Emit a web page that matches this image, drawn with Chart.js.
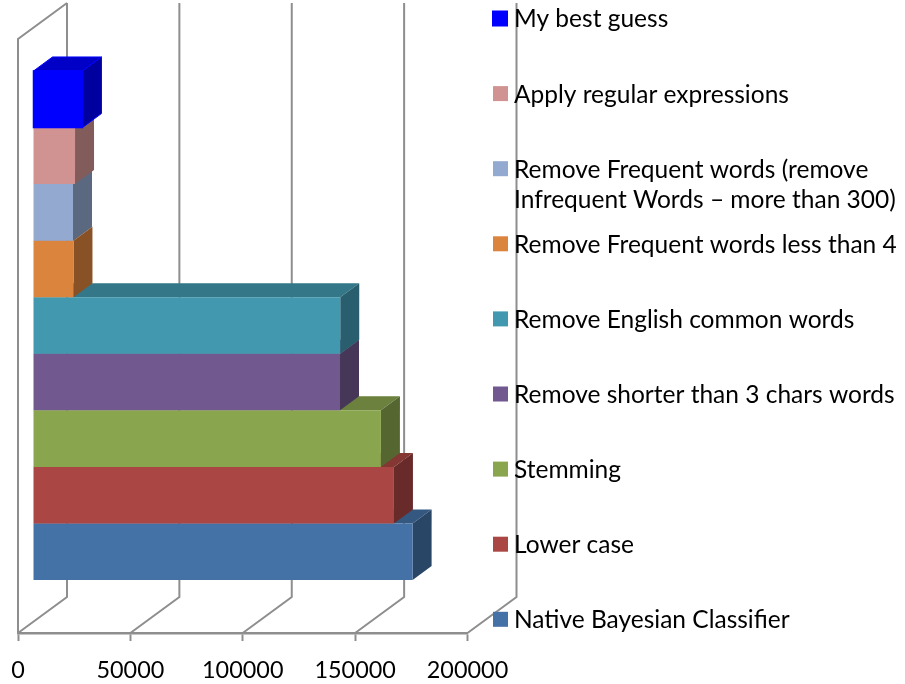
<!DOCTYPE html>
<html>
<head>
<meta charset="utf-8">
<style>html,body{margin:0;padding:0;background:#fff}canvas{display:block}</style>
<script src="https://cdn.jsdelivr.net/npm/chart.js@4"></script>
</head>
<body>
<canvas id="c" width="905" height="684"></canvas>
<script>
const categories = ['Accuracy'];
const seriesNames = [
  'My best guess',
  'Apply regular expressions',
  ['Remove Frequent words (remove', 'Infrequent Words \u2013 more than 300)'],
  'Remove Frequent words less than 4',
  'Remove English common words',
  'Remove shorter than 3 chars words',
  'Stemming',
  'Lower case',
  'Native Bayesian Classifier'
];
const seriesValues = [22000, 18700, 17800, 18000, 136700, 136600, 154800, 160600, 168900];
const seriesColors = ['#0000FF', '#D19392', '#93A9CF', '#DB843D', '#4198AF', '#71588F', '#89A54E', '#AA4643', '#4471A6'];
const xTickValues = [0, 50000, 100000, 150000, 200000];

const FONT = 'Lato, Carlito, sans-serif';
const LEGEND_SIZE = 24.5;
const TICK_SIZE = 23.4;
const GRID = '#8e8e8e';
const DEPTH = {wallX: 49, wallY: -36, gapX: 15, gapY: -10.5, barX: 19, barY: -14};

function shade(hex, f) {
  const n = parseInt(hex.slice(1), 16);
  const c = [n >> 16, (n >> 8) & 255, n & 255].map(v => Math.round(v * f));
  return 'rgb(' + c.join(',') + ')';
}
function poly(ctx, pts, fill, stroke) {
  ctx.beginPath();
  pts.forEach((p, i) => i ? ctx.lineTo(p[0], p[1]) : ctx.moveTo(p[0], p[1]));
  ctx.closePath();
  ctx.fillStyle = fill;
  ctx.fill();
  if (stroke) { ctx.strokeStyle = stroke; ctx.lineWidth = 1; ctx.stroke(); }
}

const pseudo3d = {
  id: 'pseudo3d',
  beforeDatasetsDraw(chart) {
    const {ctx, chartArea: a, scales: {x}} = chart;
    ctx.save();
    ctx.strokeStyle = GRID;
    ctx.lineWidth = 2;
    // side wall and floor/back-wall gridlines
    ctx.beginPath();
    ctx.moveTo(a.left, a.bottom);
    ctx.lineTo(a.left, a.top);
    ctx.lineTo(a.left + DEPTH.wallX, a.top + DEPTH.wallY);
    ctx.stroke();
    xTickValues.forEach(v => {
      const px = x.getPixelForValue(v);
      ctx.beginPath();
      ctx.moveTo(px, a.bottom);
      ctx.lineTo(px + DEPTH.wallX, a.bottom + DEPTH.wallY);
      ctx.lineTo(px + DEPTH.wallX, a.top + DEPTH.wallY);
      ctx.stroke();
    });
    ctx.restore();

    ctx.save();
    ctx.translate(DEPTH.gapX, DEPTH.gapY);
    // side faces painted bottom bar first so the top bar sits over the ones below it
    for (let i = chart.data.datasets.length - 1; i >= 0; i--) {
      const ds = chart.data.datasets[i];
      const bar = chart.getDatasetMeta(i).data[0];
      const top = bar.y - bar.height / 2, bottom = bar.y + bar.height / 2;
      const dx = DEPTH.barX, dy = DEPTH.barY;
      const edge = ds.outlined ? ds.backgroundColor : null;
      poly(ctx, [[bar.base, top], [bar.x, top], [bar.x + dx, top + dy], [bar.base + dx, top + dy]],
        shade(ds.backgroundColor, 0.78), edge);
      poly(ctx, [[bar.x, top], [bar.x + dx, top + dy], [bar.x + dx, bottom + dy], [bar.x, bottom]],
        shade(ds.backgroundColor, 0.62), edge);
    }
  },
  afterDatasetsDraw(chart) {
    const ctx = chart.ctx;
    chart.data.datasets.forEach((ds, i) => {
      if (!ds.outlined) return;
      const bar = chart.getDatasetMeta(i).data[0];
      ctx.strokeStyle = ds.backgroundColor;
      ctx.lineWidth = 1.5;
      ctx.strokeRect(bar.base, bar.y - bar.height / 2, bar.x - bar.base, bar.height);
    });
    ctx.restore();
  },
  afterDraw(chart) {
    // legend, top to bottom in series order
    const ctx = chart.ctx;
    ctx.save();
    ctx.font = LEGEND_SIZE + 'px ' + FONT;
    ctx.textBaseline = 'middle';
    ctx.textAlign = 'left';
    chart.data.datasets.forEach((ds, r) => {
      const cy = 18.5 + r * 75.1;
      ctx.fillStyle = ds.backgroundColor;
      const s = ds.outlined ? 16 : 15;
      ctx.fillRect(508 - s, cy - s / 2, s, s);
      ctx.fillStyle = '#000';
      [].concat(ds.fullLabel).forEach((t, k) => ctx.fillText(t, 514, cy + 1 + k * 30));
    });
    ctx.restore();
  }
};

new Chart(document.getElementById('c'), {
  type: 'bar',
  data: {
    labels: categories,
    datasets: seriesNames.map((name, i) => ({
      label: Array.isArray(name) ? name.join(' ') : name,
      fullLabel: name,
      data: [seriesValues[i]],
      backgroundColor: seriesColors[i],
      outlined: i === 0,
      borderWidth: 0,
      clip: false
    }))
  },
  plugins: [pseudo3d],
  options: {
    indexAxis: 'y',
    responsive: false,
    animation: false,
    layout: {padding: {left: 18, top: 39, right: 437.5, bottom: 0}},
    datasets: {bar: {categoryPercentage: 0.857, barPercentage: 1}},
    plugins: {legend: {display: false}, tooltip: {enabled: false}, title: {display: false}},
    scales: {
      y: {display: false},
      x: {
        min: 0, max: 200000,
        afterFit(s) { s.height = 51; s.paddingLeft = 0; s.paddingRight = 0; },
        afterBuildTicks(s) { s.ticks = xTickValues.map(v => ({value: v})); },
        border: {display: true, color: GRID, width: 2.5},
        grid: {drawOnChartArea: false, drawTicks: true, tickLength: 8, color: GRID, tickWidth: 2},
        ticks: {
          maxRotation: 0,
          autoSkip: false,
          padding: 15,
          color: '#000',
          font: {family: FONT, size: TICK_SIZE},
          callback: v => String(v)
        }
      }
    }
  }
});
</script>
</body>
</html>
